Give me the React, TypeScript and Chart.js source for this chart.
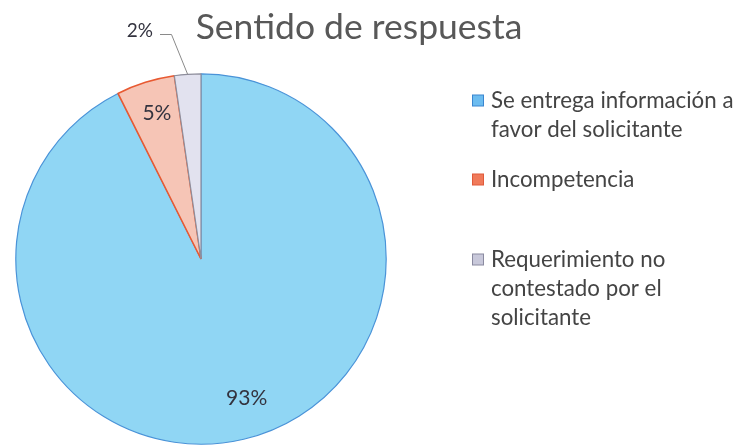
import React, { useEffect, useRef } from "react";
import { Chart, registerables } from "chart.js";

Chart.register(...registerables);

const TITLE = "Sentido de respuesta";
const categories: string[][] = [
  ["Se entrega información a", "favor del solicitante"],
  ["Incompetencia"],
  ["Requerimiento no", "contestado por el", "solicitante"],
];
const shares: number[] = [92.6, 5.1, 2.3];
const shareLabels: string[] = ["93%", "5%", "2%"];
const fillColors: string[] = ["#90d6f4", "#f6c5b6", "#e2e2ef"];
const borderColors: string[] = ["#4a93d8", "#e85a32", "#8e8e9c"];
const legendFill: string[] = ["#6cbcf0", "#f07a5a", "#c8c8da"];
const legendBorder: string[] = ["#3a86d0", "#e05a3a", "#8a8aa0"];

const FONT = "Lato, 'Open Sans', sans-serif";

const overlayPlugin = {
  id: "overlay",
  afterDraw(chart: any) {
    const ctx = chart.ctx as CanvasRenderingContext2D;
    ctx.save();
    // title
    ctx.fillStyle = "#585858";
    ctx.font = `35.5px ${FONT}`;
    ctx.textAlign = "center";
    ctx.textBaseline = "alphabetic";
    ctx.fillText(TITLE, 359, 39);

    // data labels
    const meta = chart.getDatasetMeta(0);
    meta.data.forEach((arc: any, i: number) => {
      const { x, y, startAngle, endAngle, outerRadius } = arc.getProps(
        ["x", "y", "startAngle", "endAngle", "outerRadius"],
        true
      );
      const mid = (startAngle + endAngle) / 2;
      ctx.fillStyle = "#33333f";
      ctx.textBaseline = "middle";
      if (i < 2) {
        const f = i === 0 ? 0.79 : 0.82;
        const a = i === 0 ? mid - 0.085 : mid + 0.01;
        ctx.font = `21px ${FONT}`;
        ctx.textAlign = "center";
        ctx.fillText(shareLabels[i], x + Math.cos(a) * outerRadius * f, y + Math.sin(a) * outerRadius * f);
      } else {
        const ex = x + Math.cos(mid) * outerRadius;
        const ey = y + Math.sin(mid) * outerRadius;
        ctx.strokeStyle = "#8a8a8a";
        ctx.lineWidth = 1;
        ctx.beginPath();
        ctx.moveTo(ex, ey);
        ctx.lineTo(171.5, 34.5);
        ctx.lineTo(160, 34.5);
        ctx.stroke();
        ctx.font = `19px ${FONT}`;
        ctx.textAlign = "right";
        ctx.textBaseline = "alphabetic";
        ctx.fillText(shareLabels[i], 153, 37);
      }
    });

    // legend
    const itemTop = [101, 180, 260];
    const lineH = 29;
    categories.forEach((lines, i) => {
      const top = itemTop[i];
      ctx.fillStyle = legendFill[i];
      ctx.strokeStyle = legendBorder[i];
      ctx.lineWidth = 1;
      ctx.fillRect(472.5, top - 6, 11, 11);
      ctx.strokeRect(472.5, top - 6, 11, 11);
      ctx.fillStyle = "#444444";
      ctx.font = `22.3px ${FONT}`;
      ctx.textAlign = "left";
      ctx.textBaseline = "middle";
      lines.forEach((ln, j) => ctx.fillText(ln, 491, top + j * lineH));
    });
    ctx.restore();
  },
};

export default function App() {
  const ref = useRef<HTMLCanvasElement | null>(null);
  useEffect(() => {
    document.body.style.margin = "0";
    document.body.style.background = "#ffffff";
    const canvas = ref.current!;
    const chart = new Chart(canvas, {
      type: "pie",
      data: {
        labels: categories.map((l) => l.join(" ")),
        datasets: [
          {
            data: shares,
            backgroundColor: fillColors,
            borderColor: borderColors,
            borderWidth: [1.2, 1.6, 1.2],
          },
        ],
      },
      options: {
        responsive: false,
        animation: false,
        events: [],
        layout: { padding: { left: 15, right: 366, top: 73, bottom: 1 } },
        plugins: {
          legend: { display: false },
          tooltip: { enabled: false },
          title: { display: false },
        },
      },
      plugins: [overlayPlugin],
    });
    return () => chart.destroy();
  }, []);
  return (
    <div style={{ width: 753, height: 446, background: "#fff" }}>
      <canvas ref={ref} width={753} height={446} style={{ display: "block" }} />
    </div>
  );
}
